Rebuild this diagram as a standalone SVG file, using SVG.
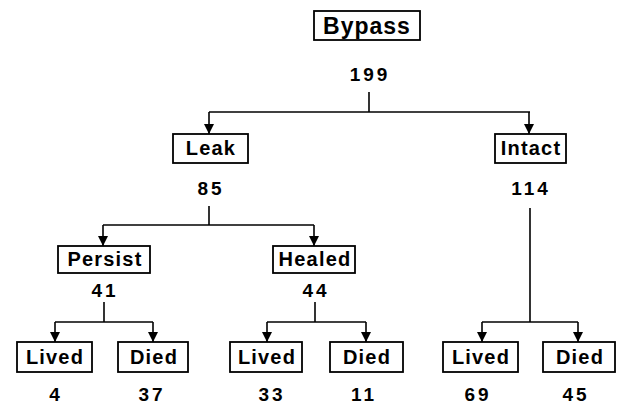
<svg xmlns="http://www.w3.org/2000/svg" width="621" height="405" viewBox="0 0 621 405">
<style>
.box{fill:#fff;stroke:#000;stroke-width:1.8}
.lbl{font-family:"Liberation Sans",Arial,sans-serif;font-weight:bold;font-size:20px;letter-spacing:1.2px;text-anchor:middle;fill:#000}
.big{font-size:23px;letter-spacing:1px}
.num{font-family:"Liberation Sans",Arial,sans-serif;font-weight:bold;font-size:19px;letter-spacing:3px;text-anchor:middle;fill:#000}
.ln{fill:none;stroke:#000;stroke-width:1.6}
</style>
<defs>
<marker id="ah" viewBox="0 0 10 10" refX="10" refY="5" markerWidth="10" markerHeight="10" markerUnits="userSpaceOnUse" orient="auto">
<path d="M0,0 L10,5 L0,10 z" fill="#000"/>
</marker>
</defs>
<g id="connectors">
<path class="ln" d="M369,92 V112"/>
<path class="ln" d="M209,112 H530"/>
<path class="ln" d="M209,112 V134" marker-end="url(#ah)"/>
<path class="ln" d="M529,112 V134" marker-end="url(#ah)"/>
<path class="ln" d="M209,206 V225"/>
<path class="ln" d="M103,225 H314"/>
<path class="ln" d="M103,225 V246" marker-end="url(#ah)"/>
<path class="ln" d="M314,225 V246" marker-end="url(#ah)"/>
<path class="ln" d="M104,302 V322"/>
<path class="ln" d="M55,322 H153"/>
<path class="ln" d="M55,322 V342" marker-end="url(#ah)"/>
<path class="ln" d="M153,322 V342" marker-end="url(#ah)"/>
<path class="ln" d="M315,302 V322"/>
<path class="ln" d="M267,322 H366"/>
<path class="ln" d="M267,322 V342" marker-end="url(#ah)"/>
<path class="ln" d="M366,322 V342" marker-end="url(#ah)"/>
<path class="ln" d="M530,208 V322"/>
<path class="ln" d="M482,322 H578"/>
<path class="ln" d="M482,322 V342" marker-end="url(#ah)"/>
<path class="ln" d="M578,322 V342" marker-end="url(#ah)"/>
</g>
<g id="bypass">
<rect class="box" x="314" y="11" width="106" height="29"/>
<text class="lbl big" x="367" y="34">Bypass</text>
<text class="num" x="370" y="81">199</text>
</g>
<g id="leak">
<rect class="box" x="173" y="134" width="75" height="29"/>
<text class="lbl" x="211" y="155">Leak</text>
<text class="num" x="211" y="195">85</text>
</g>
<g id="intact">
<rect class="box" x="495" y="134" width="71" height="29"/>
<text class="lbl" x="531" y="155">Intact</text>
<text class="num" x="531" y="195">114</text>
</g>
<g id="persist">
<rect class="box" x="58" y="246" width="92" height="27"/>
<text class="lbl" x="105" y="266">Persist</text>
<text class="num" x="105" y="297">41</text>
</g>
<g id="healed">
<rect class="box" x="273" y="246" width="82" height="27"/>
<text class="lbl" x="315" y="266">Healed</text>
<text class="num" x="316" y="297">44</text>
</g>
<g id="lived1">
<rect class="box" x="17" y="342" width="75" height="30"/>
<text class="lbl" x="55" y="364">Lived</text>
<text class="num" x="56" y="401">4</text>
</g>
<g id="died1">
<rect class="box" x="118" y="342" width="70" height="30"/>
<text class="lbl" x="154" y="364">Died</text>
<text class="num" x="152" y="401">37</text>
</g>
<g id="lived2">
<rect class="box" x="230" y="342" width="72" height="30"/>
<text class="lbl" x="267" y="364">Lived</text>
<text class="num" x="272" y="401">33</text>
</g>
<g id="died2">
<rect class="box" x="330" y="342" width="73" height="30"/>
<text class="lbl" x="367" y="364">Died</text>
<text class="num" x="364" y="401">11</text>
</g>
<g id="lived3">
<rect class="box" x="443" y="342" width="75" height="30"/>
<text class="lbl" x="481" y="364">Lived</text>
<text class="num" x="478" y="401">69</text>
</g>
<g id="died3">
<rect class="box" x="543" y="342" width="72" height="30"/>
<text class="lbl" x="580" y="364">Died</text>
<text class="num" x="576" y="401">45</text>
</g>
</svg>
